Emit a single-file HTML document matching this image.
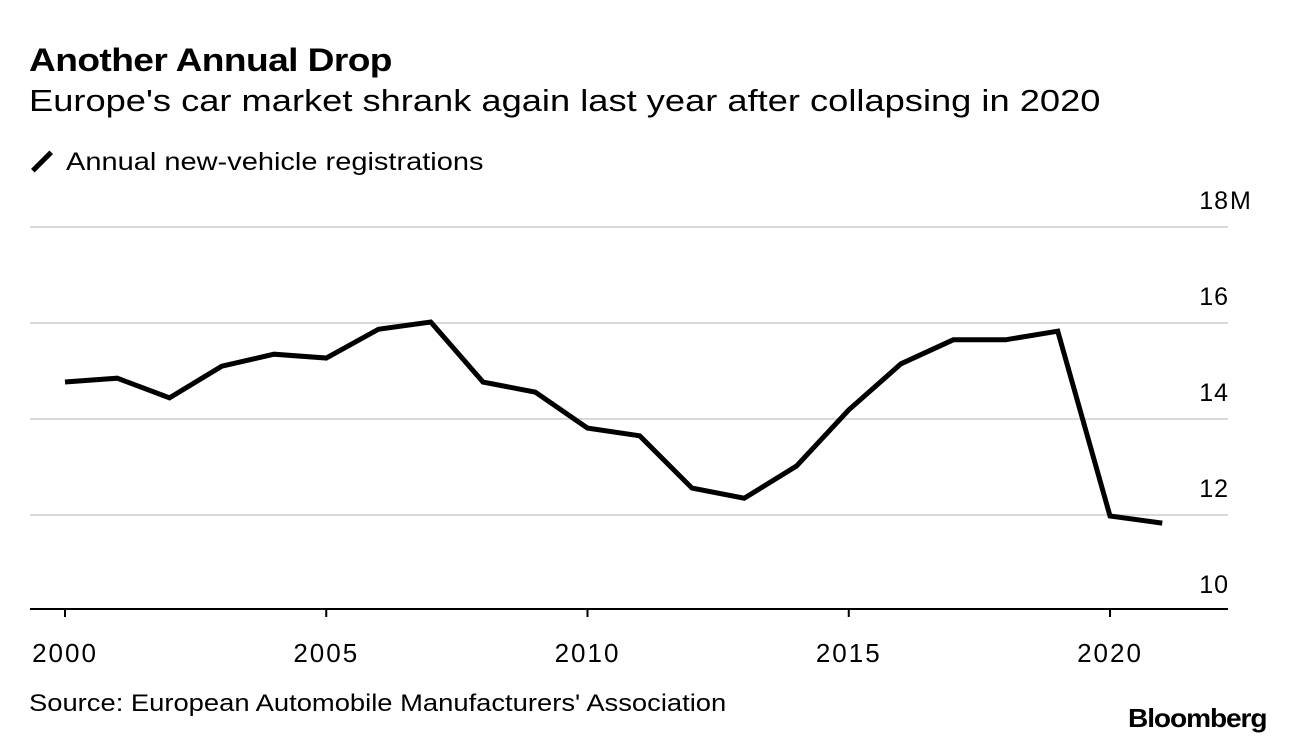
<!DOCTYPE html>
<html><head><meta charset="utf-8"><style>
body{margin:0;background:#fff;width:1296px;height:744px;overflow:hidden;font-family:"Liberation Sans",sans-serif;color:#000}
.t{position:absolute;white-space:nowrap;transform-origin:left top}
</style></head><body>
<div class="t" style="left:29px;top:42px;font-size:32px;font-weight:bold;letter-spacing:-0.5px;transform:scaleX(1.16)">Another Annual Drop</div>
<div class="t" style="left:29px;top:83px;font-size:31px;transform:scaleX(1.17)">Europe's car market shrank again last year after collapsing in 2020</div>
<div class="t" style="left:29px;top:148px;font-size:25px"><span style="display:inline-block;width:26px;height:5px;background:#000;transform:rotate(-45deg);vertical-align:middle;margin-right:11px;position:relative;top:-2px"></span><span style="display:inline-block;transform:scaleX(1.16);transform-origin:left">Annual new-vehicle registrations</span></div>
<svg width="1296" height="744" style="position:absolute;left:0;top:0">
<g id="grid"></g><g id="xaxis"></g><path id="line" fill="none" stroke="#000" stroke-width="5" stroke-linejoin="miter"/>
</svg>
<div class="t" style="left:29px;top:690px;font-size:24px;transform:scaleX(1.14)">Source: European Automobile Manufacturers' Association</div>
<div class="t" style="left:1128px;top:703px;font-size:26px;font-weight:bold;letter-spacing:-1px;transform:scaleX(1.08)">Bloomberg</div>
<script>
const years=[2000,2001,2002,2003,2004,2005,2006,2007,2008,2009,2010,2011,2012,2013,2014,2015,2016,2017,2018,2019,2020,2021];
const values=[14.77,14.85,14.44,15.1,15.35,15.27,15.87,16.02,14.77,14.56,13.81,13.65,12.56,12.35,13.02,14.19,15.15,15.65,15.65,15.83,11.98,11.83];
const yTicks=[10,12,14,16,18];
const yTickLabels=["10","12","14","16","18"];
const xTicks=[2000,2005,2010,2015,2020];
const ns="http://www.w3.org/2000/svg";
const x=v=>65+(v-2000)*52.25;
const y=v=>611-(v-10)*48;
const grid=document.getElementById('grid'),xa=document.getElementById('xaxis');
yTicks.forEach((t,i)=>{
 if(t>10){const l=document.createElementNS(ns,'line');
 l.setAttribute('x1',30);l.setAttribute('x2',1228);l.setAttribute('y1',y(t));l.setAttribute('y2',y(t));
 l.setAttribute('stroke','#d9d9d9');l.setAttribute('stroke-width','2');
 
 
 grid.appendChild(l);}
 const tx=document.createElementNS(ns,'text');
 tx.setAttribute('x',1229);tx.setAttribute('y',y(t)-18);tx.setAttribute('text-anchor','end');
 tx.setAttribute('font-size','25');tx.setAttribute('letter-spacing','1');tx.setAttribute('font-family','Liberation Sans, sans-serif');
 tx.textContent=yTickLabels[i];
 
 
 grid.appendChild(tx);
 if(i===yTicks.length-1){
  const m=document.createElementNS(ns,'text');
  m.setAttribute('x',1230);m.setAttribute('y',y(t)-18);
  m.setAttribute('font-size','25');m.setAttribute('font-family','Liberation Sans, sans-serif');
  m.textContent='M';
  
  
  grid.appendChild(m);
 }
});
const ax=document.createElementNS(ns,'line');
ax.setAttribute('x1',30);ax.setAttribute('x2',1228);ax.setAttribute('y1',609);ax.setAttribute('y2',609);
ax.setAttribute('stroke','#000');ax.setAttribute('stroke-width','2');


xa.appendChild(ax);
xTicks.forEach(t=>{
 const k=document.createElementNS(ns,'line');
 k.setAttribute('x1',x(t));k.setAttribute('x2',x(t));k.setAttribute('y1',609);k.setAttribute('y2',617);
 k.setAttribute('stroke','#000');k.setAttribute('stroke-width','2');
 
 
 xa.appendChild(k);
 const tx=document.createElementNS(ns,'text');
 tx.setAttribute('x',x(t));tx.setAttribute('y',662);tx.setAttribute('text-anchor','middle');
 tx.setAttribute('font-size','26');tx.setAttribute('letter-spacing','2');tx.setAttribute('font-family','Liberation Sans, sans-serif');
 tx.textContent=t;
 
 
 xa.appendChild(tx);
});
document.getElementById('line').setAttribute('d',years.map((yr,i)=>(i?'L':'M')+x(yr)+','+y(values[i])).join(' '));
</script>
</body></html>
